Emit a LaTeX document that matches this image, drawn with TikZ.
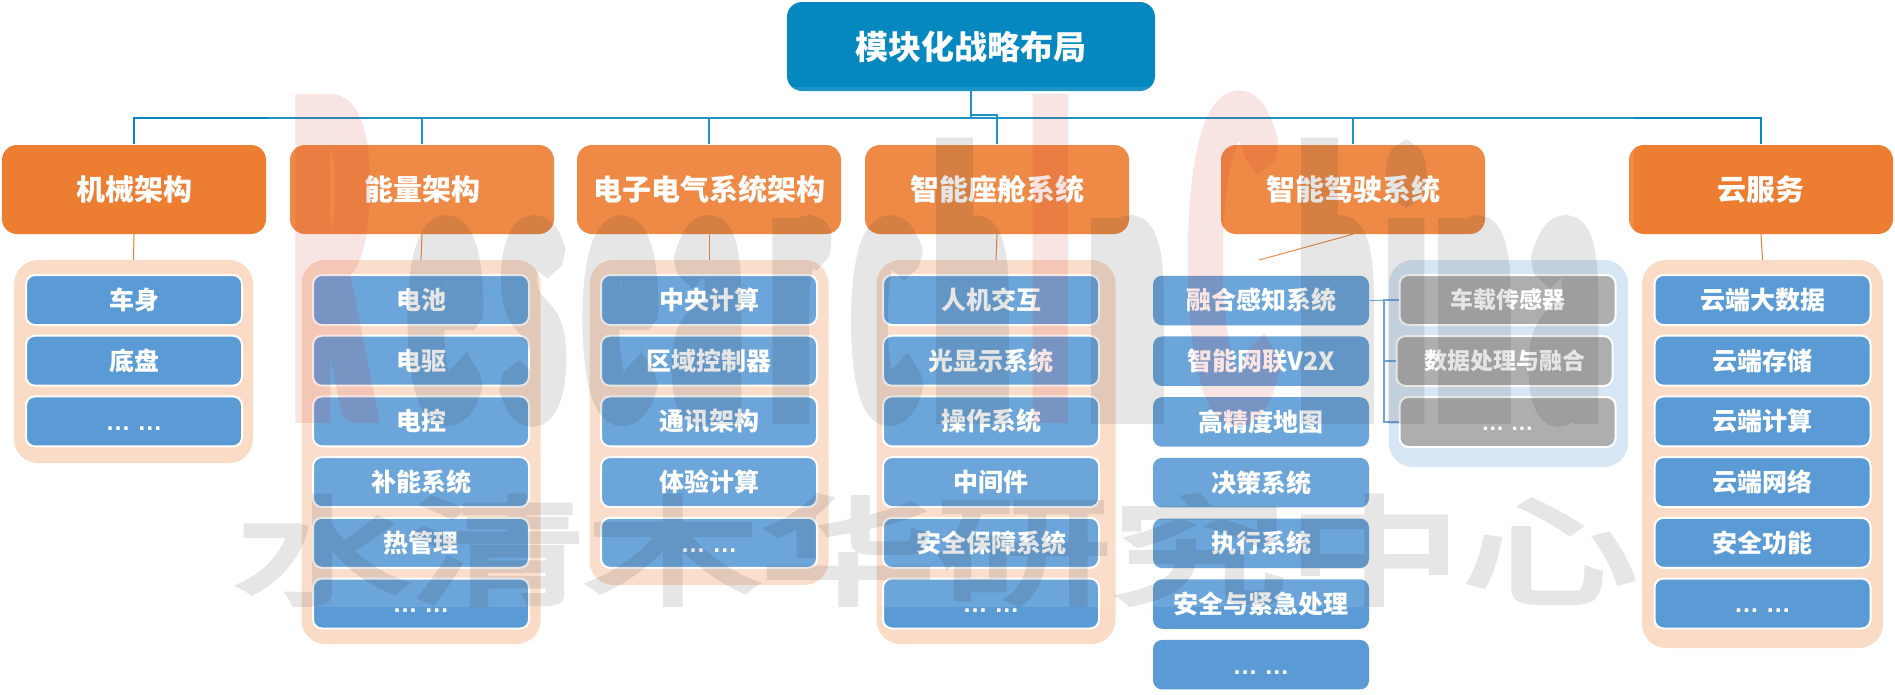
\documentclass[tikz,border=0pt]{standalone}
\usepackage{fontspec}
\usepackage{tikz}
\setmainfont{Noto Sans CJK SC}
\newfontfamily\latinfont{Liberation Sans}
\newfontfamily\wmcap[FakeStretch=0.25,FakeBold=7,UprightFont=* Light]{Lato}
\newfontfamily\wmlow[FakeStretch=0.3,FakeBold=9,UprightFont=* Light]{Lato}
\newfontfamily\wmcjk[FakeStretch=1.5,FakeBold=5]{Noto Sans CJK SC}
\definecolor{rootblue}{HTML}{0587C0}
\definecolor{headorange}{HTML}{ED7D31}
\definecolor{itemblue}{HTML}{5B9BD5}
\definecolor{itemgrey}{HTML}{A5A5A5}
\definecolor{peach}{HTML}{FADBC6}
\definecolor{paleblue}{HTML}{D3E4F3}
\definecolor{wmgrey}{HTML}{303030}
\definecolor{wmred}{HTML}{D02020}
\newcommand{\moredots}{{\latinfont … …}}
\newcommand{\wmbig}[2]{\kern#1pt\makebox[0pt]{\textcolor{wmred}{\wmcap\fontsize{423}{423}\selectfont #2}}}
\newcommand{\wmsmall}[2]{\kern#1pt\makebox[0pt]{\textcolor{wmgrey}{\wmlow\fontsize{350}{350}\selectfont #2}}}

\begin{document}
\begin{tikzpicture}[x=1pt,y=-1pt,node distance=60.7pt,
    rootbox/.style={fill=rootblue,rounded corners=15pt,minimum width=368pt,minimum height=89pt,text=white,text height=28pt,text depth=3pt,font=\fontsize{33}{33}\selectfont\bfseries},
    headbox/.style={fill=headorange,rounded corners=15pt,minimum width=264pt,minimum height=89pt,text=white,text height=24.6pt,text depth=2.6pt,font=\fontsize{29}{29}\selectfont\bfseries},
    panelbox/.style={fill=peach,rounded corners=24pt,minimum width=239pt},
    itembox/.style={fill=itemblue,draw=white,line width=2pt,rounded corners=9pt,minimum width=216pt,minimum height=50pt,inner sep=0pt,text=white,text height=21.2pt,text depth=2.3pt,font=\fontsize{25}{25}\selectfont\bfseries},
    plainbox/.style={itembox,draw=none,minimum width=216pt,minimum height=49.5pt},
    greybox/.style={itembox,fill=itemgrey,text height=19.6pt,text depth=2pt,font=\fontsize{23}{23}\selectfont\bfseries},
    busline/.style={draw=rootblue,line width=1.2pt,shorten >=1pt},
    subline/.style={draw=itemblue,line width=1.2pt},
    footline/.style={draw=headorange,line width=1pt}]
    \useasboundingbox (0,0) rectangle (1895,694);

    \node[rootbox] (root) at (971,46.5) {模块化战略布局};

    \node[headbox] (mech) at (134,189.5) {机械架构};
    \node[headbox] (energy) at (422,189.5) {能量架构};
    \node[headbox] (elec) at (709,189.5) {电子电气系统架构};
    \node[headbox] (cabin) at (997,189.5) {智能座舱系统};
    \node[headbox] (drive) at (1353,189.5) {智能驾驶系统};
    \node[headbox] (cloud) at (1761,189.5) {云服务};

    \node[panelbox,minimum height=203pt] (mechpanel) at (133.5,361.5) {};
    \node[panelbox,minimum height=384pt] (energypanel) at (421,452) {};
    \node[panelbox,minimum height=325pt] (elecpanel) at (709,422.5) {};
    \node[panelbox,minimum height=384pt] (cabinpanel) at (996,452) {};
    \node[panelbox,minimum height=388pt,minimum width=241pt] (cloudpanel) at (1762.5,454) {};
    \node[panelbox,fill=paleblue,minimum height=207pt] (sensorpanel) at (1508.5,363.5) {};

    \node[itembox] (m1) at (134,300) {车身};
    \node[itembox] (m2) [below of=m1] {底盘};
    \node[itembox] (m3) [below of=m2] {\moredots};

    \node[itembox] (e1) at (421,300) {电池};
    \node[itembox] (e2) [below of=e1] {电驱};
    \node[itembox] (e3) [below of=e2] {电控};
    \node[itembox] (e4) [below of=e3] {补能系统};
    \node[itembox] (e5) [below of=e4] {热管理};
    \node[itembox] (e6) [below of=e5] {\moredots};

    \node[itembox] (c1) at (709,300) {中央计算};
    \node[itembox] (c2) [below of=c1] {区域控制器};
    \node[itembox] (c3) [below of=c2] {通讯架构};
    \node[itembox] (c4) [below of=c3] {体验计算};
    \node[itembox] (c5) [below of=c4] {\moredots};

    \node[itembox] (k1) at (991,300) {人机交互};
    \node[itembox] (k2) [below of=k1] {光显示系统};
    \node[itembox] (k3) [below of=k2] {操作系统};
    \node[itembox] (k4) [below of=k3] {中间件};
    \node[itembox] (k5) [below of=k4] {安全保障系统};
    \node[itembox] (k6) [below of=k5] {\moredots};

    \node[plainbox] (fusion) at (1261,300.5) {融合感知系统};
    \node[plainbox] (d2) [below of=fusion] {智能网联V2X};
    \node[plainbox] (d3) [below of=d2] {高精度地图};
    \node[plainbox] (d4) [below of=d3] {决策系统};
    \node[plainbox] (d5) [below of=d4] {执行系统};
    \node[plainbox] (d6) [below of=d5] {安全与紧急处理};
    \node[plainbox] (d7) [below of=d6] {\moredots};

    \node[greybox] (sensor) at (1507.5,300) {车载传感器};
    \node[greybox] (merge) at (1504.5,361) {数据处理与融合};
    \node[greybox] (gmore) at (1507.5,422) {\moredots};

    \node[itembox] (s1) at (1762.5,300) {云端大数据};
    \node[itembox] (s2) [below of=s1] {云端存储};
    \node[itembox] (s3) [below of=s2] {云端计算};
    \node[itembox] (s4) [below of=s3] {云端网络};
    \node[itembox] (s5) [below of=s4] {安全功能};
    \node[itembox] (s6) [below of=s5] {\moredots};

    \coordinate (bus) at (971,118);
    \coordinate (cabinbus) at (971,115);
    \coordinate (fork) at (1384,300.5);
    \coordinate (drivefoot) at (1259,260);

    \draw[busline] (root.south) -- (bus);
    \foreach \head in {mech,energy,elec,drive,cloud}
        \draw[busline] (bus) -| (\head.north);
    \draw[busline] (cabinbus) -| (cabin.north);

    \draw[footline] (mech.south) -- (mechpanel.north);
    \draw[footline] (energy.south) -- (energypanel.north);
    \draw[footline] (elec.south) -- (elecpanel.north);
    \draw[footline] (cabin.south) -- (cabinpanel.north);
    \draw[footline] (drive.south) -- (drivefoot);
    \draw[footline] (cloud.south) -- (cloudpanel.north);

    \draw[subline] (fusion.east) -- (fork);
    \draw[subline] (fork) |- (sensor.west);
    \draw[subline] (fork) |- (merge.west);
    \draw[subline] (fork) |- (gmore.west);

    \fill[white,opacity=.1] (268,87) rectangle (1634,607);

    \begin{scope}[transparency group,opacity=.12]
        \node[anchor=base west,inner sep=0pt] (wmlatin) at (331,408)
            {\wmbig{0}{R}\wmsmall{114}{e}\wmsmall{88}{s}\wmsmall{87}{e}\wmsmall{88}{a}\wmsmall{90}{r}\wmsmall{88}{c}\wmsmall{86}{h}\wmbig{78}{I}\wmsmall{77}{n}\wmbig{105}{C}\wmsmall{105}{h}\wmsmall{69}{i}\wmsmall{68}{n}\wmsmall{91}{a}};
        \node[inner sep=0pt,text=wmgrey,font=\wmcjk\fontsize{117}{117}\selectfont] (wmcjk) at (936,550) {水清木华研究中心};
    \end{scope}
\end{tikzpicture}
\end{document}
